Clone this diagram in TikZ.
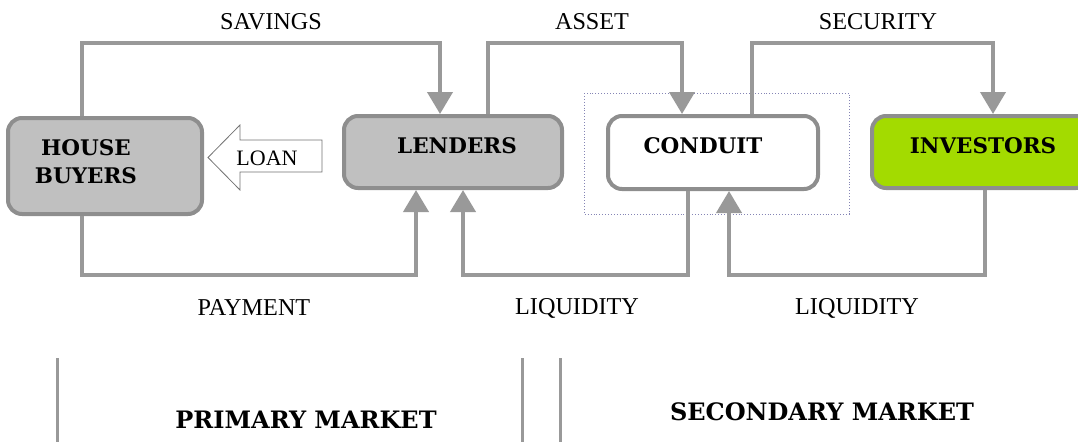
\documentclass[tikz,border=0pt]{standalone}
\usepackage{fontspec}
\setmainfont{Liberation Serif}
\newfontfamily\boldserif{DejaVu Serif}
\usetikzlibrary{arrows.meta}
\definecolor{boxgray}{HTML}{C0C0C0}
\definecolor{bordergray}{HTML}{8E8E8E}
\definecolor{flowgray}{HTML}{999999}
\definecolor{investgreen}{HTML}{A3DB00}
\definecolor{dotblue}{HTML}{8585B5}
\tikzset{
  actor/.style={draw=bordergray, line width=4pt, rounded corners=14pt, minimum width=#1},
  flow/.style={draw=flowgray, line width=4pt, -{Triangle[width=25pt,length=22pt]}},
  lbl/.style={font=\fontsize{24.2}{26}\selectfont},
  bigt/.style={font=\boldserif\bfseries\fontsize{21.5}{28}\selectfont, align=center},
  markt/.style={font=\boldserif\bfseries\fontsize{24}{26}\selectfont},
  divider/.style={draw=flowgray, line width=3pt},
}
\begin{document}
\begin{tikzpicture}[x=1pt,y=-1pt]
\useasboundingbox (0,0) rectangle (1078,442);
% boxes
\node[actor=194pt, fill=boxgray, minimum height=96pt] (hb) at (105,166) {};
\node[bigt] (hbt) at (86,162) {HOUSE\\BUYERS};
\node[actor=218pt, fill=boxgray, minimum height=72pt] (lend) at (453,152) {};
\node[bigt] (lendt) at (457,146) {LENDERS};
\node[actor=210pt, fill=white, minimum height=73pt] (cond) at (713,152.5) {};
\node[bigt] (condt) at (703,146) {CONDUIT};
\node[actor=218pt, fill=investgreen, minimum height=72pt] (inv) at (981,152) {};
\node[bigt] (invt) at (983,146) {INVESTORS};
% dotted frame around conduit
\draw[dotblue, dotted, line width=0.9pt] (584,93) rectangle (849,214);
% helper rows
\coordinate (top) at (0,43);
\coordinate (bot) at (0,275);
% starts
\coordinate (s1) at ([xshift=-23pt]hb.north);
\coordinate (s2) at ([xshift=35pt]lend.north);
\coordinate (s3) at ([xshift=39pt]cond.north);
\coordinate (s4) at ([xshift=-23pt]hb.south);
\coordinate (s5) at ([xshift=-25pt]cond.south);
\coordinate (s6) at ([xshift=4pt]inv.south);
% flows
\draw[flow] (s1) -- (s1 |- top) -| ([xshift=-13pt]lend.north);
\draw[flow] (s2) -- (s2 |- top) -| ([xshift=-31pt]cond.north);
\draw[flow] (s3) -- (s3 |- top) -| ([xshift=12pt]inv.north);
\draw[flow] (s4) -- (s4 |- bot) -| ([xshift=-37pt]lend.south);
\draw[flow] (s5) -- (s5 |- bot) -| ([xshift=10pt]lend.south);
\draw[flow] (s6) -- (s6 |- bot) -| ([xshift=16pt]cond.south);
% labels
\node[lbl] (sav) at (271,22) {SAVINGS};
\node[lbl] (ass) at (592,22) {ASSET};
\node[lbl] (sec) at (878,22) {SECURITY};
\node[lbl] (pay) at (254,308) {PAYMENT};
\node[lbl] (liq1) at (577,308) {LIQUIDITY};
\node[lbl] (liq2) at (857,308) {LIQUIDITY};
% loan arrow
\draw[draw=black!55, line width=0.8pt, fill=white]
  (322,140) -- (240,140) -- (240,125) -- (208,157.5) -- (240,190) -- (240,172) -- (322,172) -- cycle;
\node[font=\fontsize{22}{24}\selectfont] (loan) at (267,158) {LOAN};
% dividers
\draw[divider] (57,358) -- (57,442);
\draw[divider] (522,358) -- (522,442);
\draw[divider] (560,358) -- (560,442);
\node[markt] (prim) at (306,420) {PRIMARY MARKET};
\node[markt] (secm) at (822,412) {SECONDARY MARKET};
\end{tikzpicture}
\end{document}
